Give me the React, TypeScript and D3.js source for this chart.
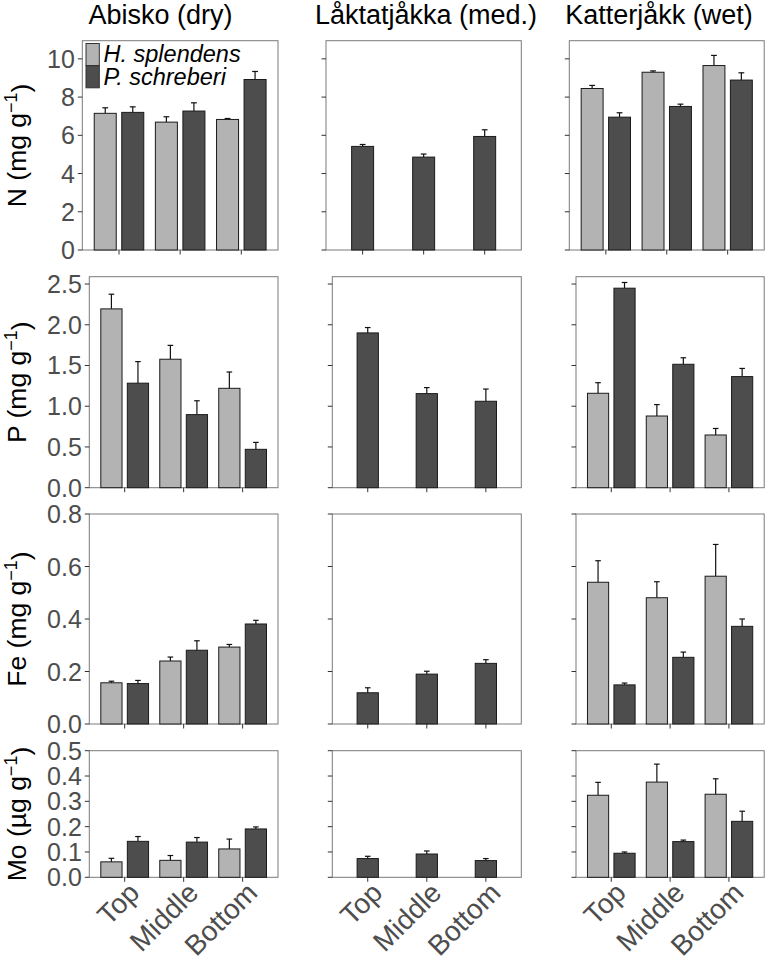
import React, { useEffect, useRef } from 'react';
import * as d3 from 'd3';

// categories
const sites = ['Top', 'Middle', 'Bottom'];
const locations = ['Abisko (dry)', 'Låktatjåkka (med.)', 'Katterjåkk (wet)'];
const species = ['H. splendens', 'P. schreberi'];

// one series per (location, species) pair that was sampled
const seriesLocation = [0, 0, 1, 2, 2];
const seriesSpecies = [0, 1, 1, 0, 1];

// N (mg g-1)
const nMeans = [
  [7.15, 6.69, 6.83],
  [7.2, 7.27, 8.92],
  [5.42, 4.86, 5.94],
  [8.45, 9.3, 9.65],
  [6.95, 7.51, 8.89],
];
const nErrors = [
  [0.29, 0.28, 0.05],
  [0.29, 0.43, 0.42],
  [0.1, 0.16, 0.35],
  [0.16, 0.07, 0.53],
  [0.23, 0.12, 0.38],
];

// P (mg g-1)
const pMeans = [
  [2.195, 1.577, 1.22],
  [1.283, 0.897, 0.471],
  [1.9, 1.155, 1.061],
  [1.159, 0.88, 0.647],
  [2.449, 1.515, 1.364],
];
const pErrors = [
  [0.18, 0.17, 0.2],
  [0.265, 0.17, 0.085],
  [0.066, 0.074, 0.15],
  [0.13, 0.14, 0.08],
  [0.07, 0.08, 0.1],
];

// Fe (mg g-1)
const feMeans = [
  [0.157, 0.24, 0.293],
  [0.154, 0.281, 0.381],
  [0.119, 0.19, 0.231],
  [0.54, 0.481, 0.563],
  [0.149, 0.254, 0.372],
];
const feErrors = [
  [0.006, 0.015, 0.01],
  [0.012, 0.036, 0.014],
  [0.019, 0.011, 0.014],
  [0.082, 0.061, 0.121],
  [0.007, 0.02, 0.028],
];

// Mo (ug g-1)
const moMeans = [
  [0.061, 0.067, 0.112],
  [0.142, 0.139, 0.191],
  [0.074, 0.092, 0.066],
  [0.324, 0.376, 0.328],
  [0.095, 0.141, 0.221],
];
const moErrors = [
  [0.014, 0.019, 0.039],
  [0.019, 0.018, 0.008],
  [0.009, 0.012, 0.008],
  [0.051, 0.071, 0.061],
  [0.005, 0.006, 0.04],
];

const elements = ['N', 'P', 'Fe', 'Mo'];
const units = ['mg', 'mg', 'mg', 'µg'];
const yMax = [10.95, 2.59, 0.8, 0.5];
const yTicks = [
  [0, 2, 4, 6, 8, 10],
  [0, 0.5, 1, 1.5, 2, 2.5],
  [0, 0.2, 0.4, 0.6, 0.8],
  [0, 0.1, 0.2, 0.3, 0.4, 0.5],
];
const allMeans = [nMeans, pMeans, feMeans, moMeans];
const allErrors = [nErrors, pErrors, feErrors, moErrors];

// layout of the panel grid
const rowBox = [
  { top: 40.7, bottom: 250, lefts: [82.3, 326, 569.3] },
  { top: 276.7, bottom: 487.7, lefts: [89.3, 332.3, 576] },
  { top: 514, bottom: 724, lefts: [89.3, 332.3, 576] },
  { top: 750.7, bottom: 877.3, lefts: [89.3, 332.3, 576] },
];
const colRights = [278, 521.3, 764.2];
const titleX = [160.5, 426, 659];

const LIGHT = '#b3b3b3';
const DARK = '#4d4d4d';
const FONT = 'Liberation Sans, Arial, Helvetica, sans-serif';

export default function App() {
  const svgRef = useRef<SVGSVGElement>(null);

  useEffect(() => {
    if (!svgRef.current) return;
    const svg = d3.select(svgRef.current);
    svg.selectAll('*').remove();

    // column titles
    locations.forEach((loc, c) => {
      svg.append('text')
        .attr('x', titleX[c])
        .attr('y', 23.5)
        .attr('text-anchor', 'middle')
        .style('font-family', FONT)
        .style('font-size', '27px')
        .attr('fill', '#000')
        .text(loc);
    });

    elements.forEach((el, r) => {
      const box = rowBox[r];
      const y = d3.scaleLinear().domain([0, yMax[r]]).range([box.bottom, box.top]);
      const fmt = r === 0 ? d3.format('d') : d3.format('.1f');

      // y axis title with superscript
      const title = svg.append('text')
        .attr('transform', `translate(26,${(box.top + box.bottom) / 2}) rotate(-90)`)
        .attr('text-anchor', 'middle')
        .style('font-family', FONT)
        .style('font-size', '26.5px')
        .attr('fill', '#000');
      title.append('tspan').text(`${el} (${units[r]} g`);
      title.append('tspan').attr('dy', '-0.5em').style('font-size', '18px').text('\u22121');
      title.append('tspan').attr('dy', '0.5em').text(')');

      locations.forEach((_, c) => {
        const left = box.lefts[c];
        const right = colRights[c];
        const x = d3.scalePoint<string>().domain(sites).range([left, right]).padding(0.6);
        const step = x.step();
        const g = svg.append('g');

        // panel border
        g.append('rect')
          .attr('x', left)
          .attr('y', box.top)
          .attr('width', right - left)
          .attr('height', box.bottom - box.top)
          .attr('fill', 'none')
          .attr('stroke', '#7a7a7a')
          .attr('stroke-width', 1);

        // y ticks
        yTicks[r].forEach(t => {
          g.append('line')
            .attr('x1', left - 4.5).attr('x2', left)
            .attr('y1', y(t)).attr('y2', y(t))
            .attr('stroke', '#333').attr('stroke-width', 1);
          if (c === 0) {
            g.append('text')
              .attr('x', left - 7.5)
              .attr('y', y(t))
              .attr('dy', '0.36em')
              .attr('text-anchor', 'end')
              .style('font-family', FONT)
              .style('font-size', '25px')
              .attr('fill', '#4d4d4d')
              .text(fmt(t));
          }
        });

        // x ticks
        sites.forEach(s => {
          g.append('line')
            .attr('x1', x(s)!).attr('x2', x(s)!)
            .attr('y1', box.bottom).attr('y2', box.bottom + 4.5)
            .attr('stroke', '#333').attr('stroke-width', 1);
          if (r === elements.length - 1) {
            g.append('text')
              .attr('transform', `translate(${x(s)! + 2},${box.bottom + 3}) rotate(-45)`)
              .attr('text-anchor', 'end')
              .attr('dy', '0.72em')
              .style('font-family', FONT)
              .style('font-size', '28px')
              .attr('fill', '#4d4d4d')
              .text(s);
          }
        });

        // bars + error bars
        const seriesHere = seriesLocation.map((l, i) => (l === c ? i : -1)).filter(i => i >= 0);
        const single = seriesHere.length === 1;
        const barW = 0.36 * step;
        const capW = 0.095 * step;
        seriesHere.forEach(si => {
          const sp = seriesSpecies[si];
          const offset = single ? 0 : (sp === 0 ? -0.225 : 0.225) * step;
          sites.forEach((s, k) => {
            const m = allMeans[r][si][k];
            const e = allErrors[r][si][k];
            const cx = x(s)! + offset;
            g.append('line')
              .attr('x1', cx).attr('x2', cx)
              .attr('y1', y(m)).attr('y2', y(m + e))
              .attr('stroke', '#111').attr('stroke-width', 1.2);
            g.append('line')
              .attr('x1', cx - capW / 2).attr('x2', cx + capW / 2)
              .attr('y1', y(m + e)).attr('y2', y(m + e))
              .attr('stroke', '#111').attr('stroke-width', 1.2);
            g.append('rect')
              .attr('x', cx - barW / 2)
              .attr('y', y(m))
              .attr('width', barW)
              .attr('height', y(0) - y(m))
              .attr('fill', sp === 0 ? LIGHT : DARK)
              .attr('stroke', '#1a1a1a')
              .attr('stroke-width', 1);
          });
        });
      });
    });

    // legend in the first panel
    const lg = svg.append('g');
    species.forEach((sp, i) => {
      lg.append('rect')
        .attr('x', 86)
        .attr('y', 43.5 + i * 22.3)
        .attr('width', 13.3)
        .attr('height', 22)
        .attr('fill', i === 0 ? LIGHT : DARK)
        .attr('stroke', '#333')
        .attr('stroke-width', 1);
      lg.append('text')
        .attr('x', 103.5)
        .attr('y', 62 + i * 23)
        .style('font-family', FONT)
        .style('font-size', '23.5px')
        .style('font-style', 'italic')
        .attr('fill', '#000')
        .text(sp);
    });
  }, []);

  return (
    <div style={{ position: 'absolute', left: 0, top: 0, background: '#fff' }}>
      <svg ref={svgRef} width={767} height={964}></svg>
    </div>
  );
}
